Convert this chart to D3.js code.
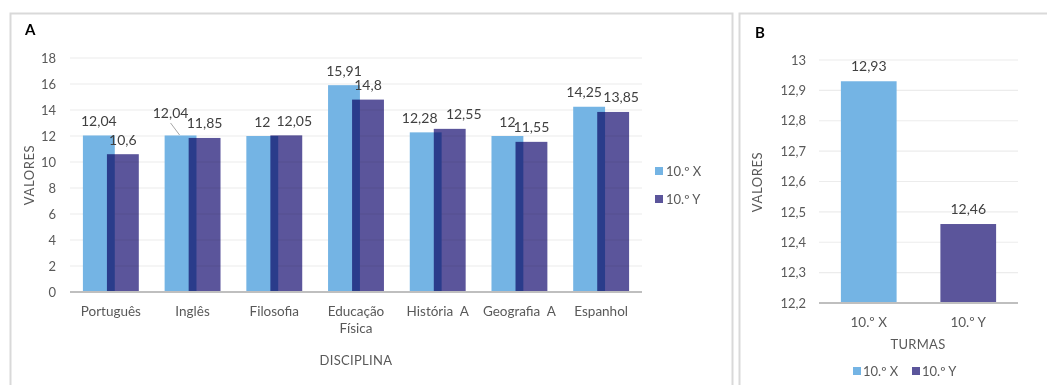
<!DOCTYPE html>
<html>
<head>
<meta charset="utf-8">
<script src="https://cdn.jsdelivr.net/npm/d3@7"></script>
<style>
  html, body { margin: 0; padding: 0; background: #fff; }
  svg { display: block; font-family: Lato, "Open Sans", sans-serif; }
  text { white-space: pre; }
</style>
</head>
<body>
<svg id="chart" width="1047" height="385"></svg>
<script>
// Panel A: average grade per subject for the two classes
const disciplinas = ["Português", "Inglês", "Filosofia", "Educação|Física", "História  A", "Geografia  A", "Espanhol"];
const turmaX = [12.04, 12.04, 12, 15.91, 12.28, 12, 14.25];
const turmaY = [10.6, 11.85, 12.05, 14.8, 12.55, 11.55, 13.85];
const ticksA = [0, 2, 4, 6, 8, 10, 12, 14, 16, 18];

// Panel B: overall class averages
const turmas = ["10.º X", "10.º Y"];
const mediasTurma = [12.93, 12.46];
const ticksB = [12.2, 12.3, 12.4, 12.5, 12.6, 12.7, 12.8, 12.9, 13];

const seriesNames = ["10.º X", "10.º Y"];
const colors = ["#74b4e4", "#5b559b"];

const fmt = v => String(+v.toFixed(2)).replace(".", ",");

const svg = d3.select("#chart");

// panel frames
svg.append("rect").attr("x", 10.5).attr("y", 13.5).attr("width", 722).attr("height", 390)
  .attr("fill", "none").attr("stroke", "#d9d9d9").attr("stroke-width", 2);
svg.append("rect").attr("x", 739.5).attr("y", 13.5).attr("width", 330).attr("height", 390)
  .attr("fill", "none").attr("stroke", "#d9d9d9").attr("stroke-width", 2);

// ---------- Panel A ----------
const gA = svg.append("g");
gA.append("text").attr("x", 25).attr("y", 35).attr("font-weight", "bold")
  .attr("font-size", 15).attr("fill", "#000").text("A");

const xA = d3.scaleBand().domain(disciplinas).range([70, 642]);
const yA = d3.scaleLinear().domain([0, 18]).range([292, 58]);
const bwA = xA.bandwidth();
const barW = bwA * 0.39;
const off = bwA * 0.147;

// gridlines
gA.append("g").selectAll("line").data(ticksA.slice(1)).join("line")
  .attr("x1", 70).attr("x2", 642)
  .attr("y1", d => yA(d)).attr("y2", d => yA(d))
  .attr("stroke", "#ececec").attr("stroke-width", 1.2);

// y axis tick labels
const axA = gA.append("g").attr("transform", "translate(62,0)")
  .call(d3.axisLeft(yA).tickValues(ticksA).tickSize(0).tickPadding(6).tickFormat(d => d));
axA.select(".domain").remove();
axA.selectAll("text").attr("font-family", "Lato, sans-serif").attr("font-size", 13).attr("fill", "#595959");

// bars: series Y drawn over series X with multiply blending so overlap darkens
const barsA = gA.append("g");
barsA.selectAll("rect.x").data(turmaX).join("rect").attr("class", "x")
  .attr("x", (d, i) => xA(disciplinas[i]) + bwA / 2 - off - barW / 2)
  .attr("width", barW)
  .attr("y", d => yA(d)).attr("height", d => yA(0) - yA(d))
  .attr("fill", colors[0]);
barsA.selectAll("rect.y").data(turmaY).join("rect").attr("class", "y")
  .attr("x", (d, i) => xA(disciplinas[i]) + bwA / 2 + off - barW / 2)
  .attr("width", barW)
  .attr("y", d => yA(d)).attr("height", d => yA(0) - yA(d))
  .attr("fill", colors[1]).style("mix-blend-mode", "multiply");

// x axis baseline
gA.append("line").attr("x1", 70).attr("x2", 642).attr("y1", yA(0)).attr("y2", yA(0))
  .attr("stroke", "#bfbfbf").attr("stroke-width", 2);

// value labels, with small nudges where neighbouring labels would collide
const nudgeX = { "1": [-10, -8], "4": [-6, 0], "6": [-5, 0] };
const nudgeY = { "2": [8, 0], "4": [14, 0], "6": [8, 0] };
const labA = gA.append("g").attr("font-size", 14).attr("fill", "#404040").attr("text-anchor", "middle");
turmaX.forEach((v, i) => {
  const [dx, dy] = nudgeX[i] || [0, 0];
  const cx = xA(disciplinas[i]) + bwA / 2 - off;
  labA.append("text").attr("x", cx + dx).attr("y", yA(v) - 9.5 + dy).text(fmt(v));
  if (nudgeX[i] && dy) {
    gA.append("line").attr("x1", cx + dx).attr("y1", yA(v) - 12.5).attr("x2", cx - 1).attr("y2", yA(v) - 0.5)
      .attr("stroke", "#a6a6a6").attr("stroke-width", 1);
  }
});
turmaY.forEach((v, i) => {
  const [dx, dy] = nudgeY[i] || [0, 0];
  const cx = xA(disciplinas[i]) + bwA / 2 + off;
  labA.append("text").attr("x", cx + dx).attr("y", yA(v) - 9.5 + dy).text(fmt(v));
});

// category labels
const catA = gA.append("g").attr("font-size", 13.5).attr("fill", "#595959").attr("text-anchor", "middle");
disciplinas.forEach(d => {
  const t = catA.append("text").attr("x", xA(d) + bwA / 2).attr("y", 316);
  d.split("|").forEach((s, k) => t.append("tspan").attr("x", xA(d) + bwA / 2).attr("dy", k ? 17 : 0).text(s));
});

// axis titles
gA.append("text").attr("transform", "translate(34,175) rotate(-90)").attr("text-anchor", "middle")
  .attr("font-size", 13).attr("letter-spacing", 0.6).attr("fill", "#595959").text("VALORES");
gA.append("text").attr("x", 356).attr("y", 365).attr("text-anchor", "middle")
  .attr("font-size", 13).attr("letter-spacing", 0.3).attr("fill", "#595959").text("DISCIPLINA");

// legend (vertical)
const legA = gA.append("g");
seriesNames.forEach((s, i) => {
  legA.append("rect").attr("x", 655).attr("y", 167 + i * 28).attr("width", 8).attr("height", 8).attr("fill", colors[i]);
  legA.append("text").attr("x", 666).attr("y", 175.5 + i * 28).attr("font-size", 13).attr("fill", "#595959").text(s);
});

// ---------- Panel B ----------
const gB = svg.append("g");
gB.append("text").attr("x", 755).attr("y", 38).attr("font-weight", "bold")
  .attr("font-size", 15).attr("fill", "#000").text("B");

const xB = d3.scaleBand().domain(turmas).range([819, 1018]);
const yB = d3.scaleLinear().domain([12.2, 13]).range([303, 60]);
const bwB = xB.bandwidth();
const barWB = bwB * 0.56;

gB.append("g").selectAll("line").data(ticksB.slice(1)).join("line")
  .attr("x1", 819).attr("x2", 1018)
  .attr("y1", d => yB(d)).attr("y2", d => yB(d))
  .attr("stroke", "#ececec").attr("stroke-width", 1.2);

const axB = gB.append("g").attr("transform", "translate(812,0)")
  .call(d3.axisLeft(yB).tickValues(ticksB).tickSize(0).tickPadding(6).tickFormat(fmt));
axB.select(".domain").remove();
axB.selectAll("text").attr("font-family", "Lato, sans-serif").attr("font-size", 13).attr("fill", "#595959");

gB.append("g").selectAll("rect").data(mediasTurma).join("rect")
  .attr("x", (d, i) => xB(turmas[i]) + bwB / 2 - barWB / 2)
  .attr("width", barWB)
  .attr("y", d => yB(d)).attr("height", d => yB(12.2) - yB(d))
  .attr("fill", (d, i) => colors[i]);

gB.append("line").attr("x1", 819).attr("x2", 1018).attr("y1", yB(12.2)).attr("y2", yB(12.2))
  .attr("stroke", "#bfbfbf").attr("stroke-width", 2);

gB.append("g").attr("font-size", 14).attr("fill", "#404040").attr("text-anchor", "middle")
  .selectAll("text").data(mediasTurma).join("text")
  .attr("x", (d, i) => xB(turmas[i]) + bwB / 2)
  .attr("y", d => yB(d) - 10)
  .text(fmt);

gB.append("g").attr("font-size", 13.5).attr("fill", "#595959").attr("text-anchor", "middle")
  .selectAll("text").data(turmas).join("text")
  .attr("x", d => xB(d) + bwB / 2).attr("y", 326.5).text(d => d);

gB.append("text").attr("transform", "translate(762,182) rotate(-90)").attr("text-anchor", "middle")
  .attr("font-size", 13).attr("letter-spacing", 0.6).attr("fill", "#595959").text("VALORES");
gB.append("text").attr("x", 918).attr("y", 348.5).attr("text-anchor", "middle")
  .attr("font-size", 13).attr("letter-spacing", 0.3).attr("fill", "#595959").text("TURMAS");

// legend (horizontal)
const legB = gB.append("g");
[853, 912].forEach((lx, i) => {
  legB.append("rect").attr("x", lx).attr("y", 367).attr("width", 8).attr("height", 8).attr("fill", colors[i]);
  legB.append("text").attr("x", lx + 10).attr("y", 375.5).attr("font-size", 13).attr("fill", "#595959").text(seriesNames[i]);
});
</script>
</body>
</html>
